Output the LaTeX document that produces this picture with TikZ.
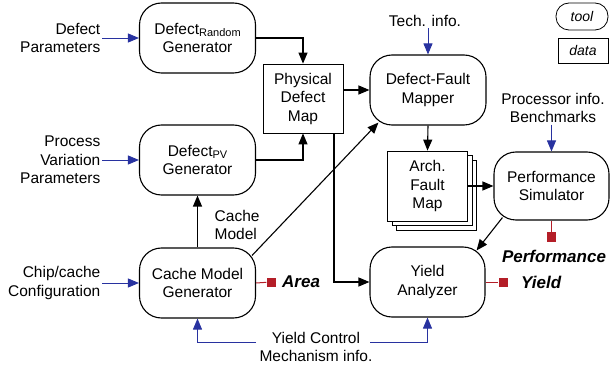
\documentclass[tikz,border=0pt]{standalone}
\usepackage{fontspec}
\setmainfont{Liberation Sans}
\usetikzlibrary{arrows.meta,calc}
\definecolor{inblue}{RGB}{40,50,160}
\definecolor{outred}{RGB}{180,30,40}
\begin{document}
\begin{tikzpicture}[x=1pt,y=-1pt,
  txt/.style={font=\fontsize{15.5}{18.5}\selectfont},
  toolbox/.style={txt, draw, line width=1.1pt, rounded corners=22pt, minimum width=116pt, minimum height=70pt, align=center, inner sep=2pt},
  databox/.style={txt, draw, fill=white, line width=0.8pt, minimum width=80pt, minimum height=69pt, align=center, inner sep=2pt},
  lbl/.style={txt, inner sep=1.5pt},
  res/.style={font=\fontsize{17}{20}\selectfont\bfseries\itshape, inner sep=1pt},
  redsq/.style={fill=outred, minimum size=9pt, inner sep=0pt},
  arr/.style={-{Triangle[length=11pt,width=9pt]}, line width=1.1pt},
  inarr/.style={-{Triangle[length=11pt,width=9pt]}, line width=0.9pt, draw=inblue},
  outline/.style={line width=1pt, draw=outred}
]
\useasboundingbox (0,0) rectangle (613,366);

% tools
\node[toolbox] (gr)  at (197.5,38)  {Defect\raisebox{-2.5pt}{\fontsize{11}{11}\selectfont Random}\\Generator};
\node[toolbox] (gpv) at (197.5,160) {Defect\raisebox{-2.5pt}{\fontsize{11}{11}\selectfont PV}\\Generator};
\node[toolbox] (gcm) at (197.5,283) {Cache Model\\Generator};
\node[toolbox] (dfm) at (428,90)    {Defect-Fault\\Mapper};
\node[toolbox, minimum width=115pt, minimum height=68pt] (ps) at (551.5,186) {Performance\\Simulator};
\node[toolbox, minimum width=115pt] (ya) at (427.5,282) {Yield\\Analyzer};

% data
\node[databox] (pdm) at (303,98.5) {Physical\\Defect\\Map};
\node[databox, minimum height=70pt] (afm3) at (436.5,195) {};
\node[databox, minimum height=70pt] (afm2) at (432,190.5) {};
\node[databox, minimum height=70pt] (afm)  at (427.5,186) {Arch.\\Fault\\Map};

% legend
\node[toolbox, rounded corners=13pt, minimum width=52pt, minimum height=27pt, font=\fontsize{14}{16}\selectfont\itshape, line width=0.8pt] (lgt) at (582,16.5) {tool};
\node[databox, minimum width=50pt, minimum height=25pt, font=\fontsize{14}{16}\selectfont\itshape] (lgd) at (583,50.5) {data};

% input labels
\node[lbl, anchor=east, align=right] (dpar) at (102,38)  {Defect\\Parameters};
\node[lbl, anchor=east, align=right] (pvar) at (102,160) {Process\\Variation\\Parameters};
\node[lbl, anchor=east, align=right] (chip) at (102,283) {Chip/cache\\Configuration};
\node[lbl] (tech) at (425,21) {Tech. info.};
\node[lbl, align=center] (pinf) at (553,108) {Processor info.\\Benchmarks};
\node[lbl, align=center] (ycm) at (316,347) {Yield Control\\Mechanism info.};
\node[lbl, anchor=west, align=left] (cml) at (213,225) {Cache\\Model};
\coordinate (ycl) at (256,342);
\coordinate (ycr) at (370,342);

% outputs
\node[redsq] (sqa) at (271,282) {};
\node[res, anchor=west] (area) at (281,282) {Area};
\node[redsq] (sqy) at (503,282) {};
\node[res, anchor=west] (yld) at (520,282) {Yield};
\node[redsq] (sqp) at (551.5,237) {};
\node[res] (perf) at (554,256) {Performance};

% blue inputs
\draw[inarr] (dpar.east) -- (gr.west);
\draw[inarr] (pvar.east) -- (gpv.west);
\draw[inarr] (chip.east) -- (gcm.west);
\draw[inarr] (tech.south -| dfm.north) -- (dfm.north);
\draw[inarr] (pinf.south -| ps.north) -- (ps.north);
\draw[inarr] (ycl) -| (gcm.south);
\draw[inarr] (ycr) -| (ya.south);

% black flows
\draw[arr] (gr.east) -| (pdm.north);
\draw[arr] (gpv.east) -| (pdm.south);
\draw[arr] (gcm.north) -- (gpv.south);
\draw[arr] (dfm.west -| pdm.east) -- (dfm.west);
\draw[arr] ($(gcm.north east)+(-4,8)$) -- ($(dfm.south west)+(9,-3)$);
\draw[arr] ([xshift=31pt]pdm.south) |- (ya.west);
\draw[arr] (dfm.south) -- (afm.north);
\draw[arr] (afm.east) -- (ps.west);
\draw[arr] ($(ps.south west)+(9,-3)$) -- ($(ya.north east)+(-9,4)$);

% red outputs
\draw[outline] (gcm.east) -- (sqa);
\draw[outline] (ya.east) -- (sqy);
\draw[outline] (ps.south) -- (sqp);
\end{tikzpicture}
\end{document}
